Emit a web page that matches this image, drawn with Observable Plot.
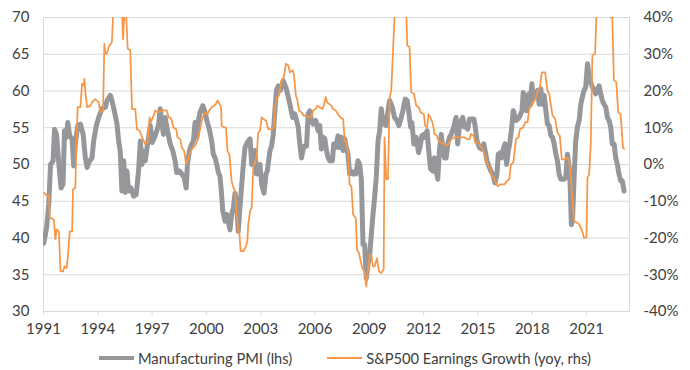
<!DOCTYPE html>
<html>
<head>
<meta charset="utf-8">
<script src="https://cdn.jsdelivr.net/npm/d3@7"></script>
<script src="https://cdn.jsdelivr.net/npm/@observablehq/plot@0.6"></script>
<style>
  html, body { margin: 0; padding: 0; background: #fff; }
  #chart { width: 690px; }
  .legend { display: flex; justify-content: center; align-items: center; height: 32px;
    font-family: Lato, sans-serif; font-size: 14.7px; color: #404040; width: 690px; }
  .legend .item { display: flex; align-items: center; }
  .legend .sw { display: inline-block; width: 35px; margin-right: 4px; }
  .legend .gap { width: 35px; }
</style>
</head>
<body>
<div id="chart"></div>
<script>
// ---- Data ----
const pmiYear = [
  1991.02,1991.17,1991.29,1991.39,1991.53,1991.61,1991.72,1991.85,1991.97,1992.08,1992.16,1992.27,1992.34,1992.45,1992.58,1992.67,1992.76,1992.89,
  1993.04,1993.19,1993.31,1993.41,1993.55,1993.68,1993.77,1993.92,1994.05,1994.23,1994.42,1994.51,1994.69,1994.78,1994.91,
  1995.06,1995.15,1995.24,1995.33,1995.43,1995.52,1995.61,1995.70,1995.83,1995.98,1996.12,1996.25,1996.35,1996.44,1996.53,1996.62,1996.75,1996.90,
  1997.01,1997.17,1997.35,1997.45,1997.54,1997.63,1997.72,1997.85,1998.00,1998.14,1998.27,1998.36,1998.51,1998.64,1998.77,1998.88,1998.95,
  1999.06,1999.19,1999.28,1999.37,1999.47,1999.56,1999.65,1999.80,1999.93,2000.02,2000.16,2000.29,2000.38,2000.48,2000.57,2000.66,2000.75,2000.84,2000.90,
  2001.03,2001.12,2001.21,2001.30,2001.39,2001.49,2001.58,2001.67,2001.76,2001.85,2001.95,2002.04,2002.13,2002.26,2002.41,2002.50,2002.59,2002.68,2002.77,2002.86,2002.96,
  2003.05,2003.18,2003.29,2003.36,2003.51,2003.60,2003.69,2003.78,2003.87,2003.97,2004.09,2004.24,2004.39,2004.52,2004.61,2004.76,2004.88,2004.98,
  2005.07,2005.16,2005.25,2005.38,2005.53,2005.62,2005.71,2005.80,2005.89,2006.04,2006.17,2006.26,2006.35,2006.45,2006.54,2006.63,2006.72,2006.81,2006.96,
  2007.03,2007.14,2007.27,2007.36,2007.46,2007.55,2007.64,2007.73,2007.82,2007.91,2008.01,2008.10,2008.25,2008.37,2008.47,2008.56,2008.65,2008.74,2008.83,2008.92,
  2009.02,2009.11,2009.20,2009.29,2009.38,2009.48,2009.57,2009.66,2009.75,2009.84,2009.93,2010.03,2010.12,2010.27,2010.39,2010.52,2010.63,2010.76,2010.85,2010.98,
  2011.09,2011.17,2011.28,2011.35,2011.46,2011.59,2011.72,2011.83,2011.90,2012.01,2012.08,2012.19,2012.27,2012.38,2012.51,2012.60,2012.69,2012.78,2012.87,2012.97,
  2013.06,2013.15,2013.24,2013.33,2013.42,2013.52,2013.66,2013.79,2013.88,2013.97,2014.07,2014.16,2014.25,2014.34,2014.43,2014.53,2014.66,2014.77,2014.84,2014.95,
  2015.08,2015.21,2015.32,2015.39,2015.50,2015.63,2015.72,2015.81,2015.94,2016.05,2016.12,2016.23,2016.31,2016.42,2016.49,2016.58,2016.68,2016.76,2016.84,2016.95,
  2017.06,2017.13,2017.28,2017.43,2017.50,2017.61,2017.69,2017.80,2017.87,2017.98,2018.05,2018.16,2018.29,2018.38,2018.47,2018.57,2018.66,2018.75,2018.84,2018.93,
  2019.03,2019.12,2019.21,2019.30,2019.39,2019.48,2019.58,2019.67,2019.76,2019.85,2019.94,2020.04,2020.09,2020.16,2020.22,2020.31,2020.40,2020.49,2020.59,2020.68,2020.77,2020.86,2020.95,
  2021.05,2021.14,2021.23,2021.32,2021.41,2021.50,2021.60,2021.69,2021.78,2021.87,2021.96,2022.06,2022.15,2022.24,2022.33,2022.42,2022.52,2022.61,2022.70,2022.79,2022.88,2022.97,2023.07
];
const pmiValue = [
  39.3,41.4,44.6,50.0,50.5,54.8,54.1,50.0,46.8,47.3,54.6,53.7,55.7,53.9,53.5,49.8,52.8,55.3,
  55.5,54.1,50.9,49.6,50.5,50.9,53.2,55.3,56.4,57.6,57.8,58.7,59.4,58.7,57.3,
  55.5,53.2,51.8,46.4,50.5,46.2,49.1,46.4,46.8,45.7,45.9,49.1,53.2,50.0,51.8,50.5,52.8,55.3,
  53.0,53.9,55.3,57.6,55.5,54.1,56.4,54.6,52.8,51.9,50.5,48.9,49.1,48.7,48.2,46.8,50.0,
  51.9,52.8,53.2,55.7,53.7,56.0,57.1,58.0,57.1,56.0,54.8,53.2,51.4,50.9,50.0,48.9,48.4,45.9,43.7,
  42.3,43.2,42.3,41.1,43.2,44.1,46.1,44.6,40.9,44.1,47.3,50.0,52.3,53.0,53.5,50.0,50.9,51.9,48.7,49.1,50.0,
  47.3,46.1,48.7,49.1,51.9,52.5,54.1,57.3,60.1,60.7,60.1,61.4,60.5,59.2,58.2,56.4,56.9,56.0,
  55.1,52.8,50.9,52.5,52.5,56.9,57.3,56.0,55.5,56.0,54.6,55.3,52.1,53.7,53.5,51.9,50.9,50.5,50.5,
  52.8,52.3,53.9,52.3,53.7,51.9,53.5,52.3,51.4,48.7,49.1,48.7,48.7,50.5,50.0,47.8,39.1,39.1,34.5,36.4,
  37.7,40.5,43.2,45.5,48.2,53.2,54.6,57.6,55.5,56.4,55.3,57.3,58.7,57.8,56.4,56.0,55.3,56.4,57.3,58.9,
  58.7,57.3,55.1,55.7,52.8,53.7,51.6,52.8,53.9,54.1,53.7,54.6,52.1,49.4,49.1,50.9,49.1,48.0,51.9,54.1,
  52.3,50.9,50.9,52.8,53.7,54.1,55.1,56.4,52.8,55.1,56.0,56.4,55.1,55.3,54.8,56.2,56.2,56.2,55.3,53.2,
  52.3,52.1,52.8,51.9,50.5,49.6,49.1,48.7,47.5,48.7,51.4,51.6,50.9,52.3,52.8,50.0,51.9,53.0,54.5,57.3,
  56.4,56.0,56.4,57.3,59.8,58.7,57.3,59.6,58.2,61.0,58.9,59.4,60.1,58.2,60.3,58.2,59.4,57.3,55.5,55.3,
  53.9,53.7,52.8,51.4,50.5,48.7,48.0,48.0,48.0,48.2,51.4,49.6,47.3,41.8,42.3,48.2,53.2,55.1,56.0,58.2,59.2,60.1,60.5,
  63.7,61.9,61.2,60.5,60.3,59.6,60.1,60.7,59.6,58.7,58.2,57.8,56.4,56.0,55.1,52.8,52.8,50.9,50.0,48.7,47.8,47.8,46.4
];

const epsYear = [
  1991.02,1991.11,1991.20,1991.29,1991.35,1991.57,1991.66,1991.72,1991.85,1991.94,1992.08,1992.16,1992.27,1992.34,1992.45,1992.58,1992.63,1992.76,1992.82,1992.89,
  1993.04,1993.13,1993.22,1993.26,1993.31,1993.41,1993.59,1993.68,1993.86,1994.05,1994.14,1994.29,1994.36,1994.42,1994.51,1994.60,1994.73,1994.78,1994.84,
  1994.95,1995.15,1995.33,1995.39,1995.46,1995.57,1995.65,1995.79,1995.89,1996.07,1996.16,1996.31,1996.38,1996.49,1996.62,1996.75,1996.86,1996.93,
  1997.08,1997.17,1997.30,1997.45,1997.63,1997.81,1997.91,1998.00,1998.09,1998.18,1998.33,1998.40,1998.55,1998.64,1998.77,1998.88,
  1999.01,1999.10,1999.25,1999.37,1999.47,1999.56,1999.65,1999.74,1999.83,1999.93,2000.05,2000.16,2000.29,2000.42,2000.53,2000.61,2000.72,2000.81,2000.84,2000.94,
  2001.08,2001.16,2001.27,2001.39,2001.49,2001.58,2001.67,2001.76,2001.82,2001.89,2002.04,2002.18,2002.26,2002.31,2002.41,2002.50,2002.59,2002.68,2002.77,2002.86,2002.96,
  2003.05,2003.14,2003.29,2003.42,2003.60,2003.73,2003.78,2003.87,2004.02,2004.15,2004.28,2004.39,2004.52,2004.61,2004.76,2004.83,2004.94,
  2005.01,2005.12,2005.25,2005.38,2005.53,2005.67,2005.80,2005.89,2006.04,2006.12,2006.26,2006.41,2006.48,2006.59,2006.67,2006.78,2006.90,2006.99,
  2007.14,2007.27,2007.40,2007.55,2007.64,2007.73,2007.82,2007.91,2008.01,2008.10,2008.25,2008.32,2008.43,2008.50,2008.61,2008.74,2008.83,2008.92,
  2009.02,2009.11,2009.20,2009.29,2009.42,2009.53,2009.66,2009.79,2009.84,2009.93,2010.03,2010.12,2010.21,2010.30,2010.39,2010.55,2010.75,2010.92,
  2011.04,2011.09,2011.22,2011.31,2011.46,2011.59,2011.72,2011.83,2012.01,2012.08,2012.19,2012.27,2012.38,2012.51,2012.60,2012.74,2012.82,2012.97,
  2013.11,2013.30,2013.42,2013.52,2013.70,2014.25,2014.40,2014.53,2014.62,2014.77,2014.84,2014.99,2015.13,2015.21,2015.32,2015.44,2015.57,2015.68,2015.76,2015.87,2015.99,
  2016.09,2016.27,2016.46,2016.60,2016.73,2016.82,2016.95,2017.10,2017.24,2017.32,2017.50,2017.61,2017.74,2017.83,2017.98,2018.11,2018.20,2018.29,2018.42,2018.53,2018.71,2018.84,2018.93,
  2019.12,2019.26,2019.39,2019.52,2019.63,2019.82,2019.94,2020.04,2020.13,2020.31,2020.49,2020.59,2020.73,2020.86,2020.99,2021.05,2021.14,2021.23,2021.32,2021.47,2021.54,
  2021.70,2021.95,2022.15,2022.33,2022.42,2022.51,2022.64,2022.75,2022.88,2023.01,2023.07
];
const epsValue = [
  -7.7,-8.1,-8.6,-8.1,-14.5,-15.0,-20.4,-17.7,-18.2,-29.1,-29.1,-27.7,-28.2,-25.5,-18.2,-18.2,-6.8,-6.3,6.4,15.6,
  15.6,22.0,21.5,23.3,19.7,15.6,16.0,16.9,17.8,16.9,14.2,14.7,32.9,30.2,30.2,32.0,32.9,33.3,40.0,
  48.0,50.0,44.0,34.0,40.5,40.5,31.5,31.1,15.1,15.1,9.6,9.2,8.3,6.9,5.5,6.0,12.8,11.5,
  13.3,14.7,14.2,14.5,14.7,14.7,12.8,12.8,11.9,10.1,9.6,7.4,6.9,4.6,3.7,0.0,
  1.8,3.3,4.6,5.1,6.0,7.4,9.6,11.9,13.3,14.2,13.7,14.7,15.6,16.0,16.5,17.4,16.5,15.6,10.6,10.1,
  10.1,3.7,2.7,-4.5,-6.3,-7.2,-13.6,-17.7,-18.6,-23.6,-23.6,-22.3,-20.9,-16.3,-12.7,-11.8,-0.5,0.5,1.8,8.7,9.2,
  12.8,12.4,11.9,9.6,9.6,10.1,14.7,18.3,18.8,22.9,23.8,27.4,27.0,25.1,25.6,24.7,18.8,
  17.8,14.7,14.2,13.3,13.3,12.8,12.8,14.7,15.1,16.0,15.6,15.1,16.0,18.3,16.9,16.5,16.0,15.1,
  14.7,13.7,12.8,12.4,6.4,6.0,3.6,-5.5,-5.9,-13.6,-14.5,-23.2,-24.1,-25.9,-28.2,-29.1,-33.2,-29.1,
  -24.5,-24.7,-27.7,-27.7,-25.5,-29.1,-29.5,-28.6,7.3,-4.0,-4.0,18.3,20.1,30.2,40.0,75.0,85.0,60.0,
  42.0,32.4,32.0,19.7,19.2,16.0,15.6,14.2,13.7,10.6,10.1,13.7,12.8,11.0,8.3,7.8,6.4,6.0,
  5.5,5.1,6.0,6.9,7.4,7.4,6.9,6.9,8.3,7.8,6.0,6.0,5.1,4.6,3.2,1.8,-0.5,-0.9,-3.2,-3.6,-4.9,
  -5.9,-5.4,-5.4,-4.5,-4.0,0.0,0.5,6.9,7.4,9.6,10.1,11.5,11.5,15.1,16.0,17.4,18.3,20.1,21.0,25.1,25.1,20.1,19.2,
  13.3,12.4,8.7,7.8,1.4,1.4,1.9,1.0,-3.6,-15.4,-15.9,-16.3,-17.7,-20.0,-19.8,-3.6,-2.7,5.5,29.7,30.2,40.0,
  75.0,70.0,50.0,40.0,40.0,22.9,22.4,14.2,13.7,4.6,4.2
];

const xTicks = [1991, 1994, 1997, 2000, 2003, 2006, 2009, 2012, 2015, 2018, 2021];
const pmiTicks = [30, 35, 40, 45, 50, 55, 60, 65, 70];
const xEnd = 2023.37;

const pmi = pmiYear.map((t, i) => ({t, v: pmiValue[i]}));
const eps = epsYear.map((t, i) => ({t, v: epsValue[i]}));
// right axis: -40%..40% mapped onto the 30..70 PMI scale
const toLeft = e => 50 + e / 2;
const gray = "#95979a", orange = "#f79646", grid = "#d9d9d9", text = "#404040";

const chart = Plot.plot({
  width: 690,
  height: 342,
  marginLeft: 43,
  marginRight: 61,
  marginTop: 17,
  marginBottom: 31,
  style: {fontFamily: "Lato, sans-serif", fontSize: "15px", color: text, background: "#fff"},
  x: {domain: [1991, xEnd], label: null},
  y: {domain: [30, 70], label: null},
  marks: [
    Plot.gridY(pmiTicks, {stroke: grid, strokeOpacity: 1}),
    Plot.frame({stroke: grid}),
    Plot.axisY(pmiTicks, {anchor: "left", tickSize: 0, tickPadding: 14, fill: text, label: null}),
    Plot.axisY(pmiTicks, {anchor: "right", tickSize: 0, tickPadding: 14, fill: text, label: null,
      tickFormat: d => `${(d - 50) * 2}%`}),
    Plot.axisX(xTicks, {anchor: "bottom", tickSize: 4, tickPadding: 8, stroke: grid, fill: text,
      tickFormat: d => String(d), label: null}),
    Plot.line(pmi, {x: "t", y: "v", stroke: gray, strokeWidth: 5, clip: true, strokeLinejoin: "round"}),
    Plot.line(eps, {x: "t", y: d => toLeft(d.v), stroke: orange, strokeWidth: 1.75, clip: true, strokeLinejoin: "round"})
  ]
});
document.getElementById("chart").appendChild(chart);

const legend = document.createElement("div");
legend.className = "legend";
legend.innerHTML =
  `<span class="item"><span class="sw" style="border-top:4px solid ${gray}"></span>Manufacturing PMI (lhs)</span>` +
  `<span class="gap"></span>` +
  `<span class="item"><span class="sw" style="border-top:2px solid ${orange}"></span>S&amp;P500 Earnings Growth (yoy, rhs)</span>`;
document.getElementById("chart").appendChild(legend);
</script>
</body>
</html>
